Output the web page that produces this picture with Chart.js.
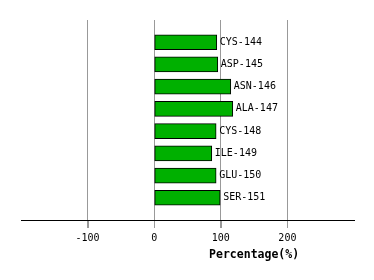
<!DOCTYPE html>
<html>
<head>
<meta charset="utf-8">
<script src="https://cdn.jsdelivr.net/npm/chart.js@4/dist/chart.umd.min.js"></script>
<style>
  html, body { margin: 0; padding: 0; background: #fff; }
  #wrap { width: 374px; height: 280px; }
</style>
</head>
<body>
<div id="wrap"><canvas id="chart_a" width="374" height="280"></canvas></div>
<script>
// residues (padded with empty slots top and bottom)
var residues = ['CYS-144', 'ASP-145', 'ASN-146', 'ALA-147', 'CYS-148', 'ILE-149', 'GLU-150', 'SER-151'];
var percentages = [94, 95.5, 115, 118, 93, 86.5, 93, 99];
var tickValues = [-100, 0, 100, 200];
var axisTitle = 'Percentage(%)';

var labels = [''].concat(residues, ['']);
var values = [null].concat(percentages, [null]);

var mono = "'DejaVu Sans Mono', 'Liberation Mono', monospace";

function gridCol(c) {
  var v = c.tick ? c.tick.value : null;
  return tickValues.indexOf(v) >= 0 ? '#999999' : 'rgba(0,0,0,0)';
}

// residue names to the right of each bar, plus tick marks under the axis
var barLabels = {
  id: 'barLabels',
  afterDatasetsDraw: function(chart) {
    var ctx = chart.ctx;
    var meta = chart.getDatasetMeta(0);
    var xs = chart.scales.x;
    ctx.save();
    ctx.font = '10px ' + mono;
    ctx.fillStyle = '#000';
    ctx.textAlign = 'left';
    ctx.textBaseline = 'middle';
    meta.data.forEach(function(bar, i) {
      if (values[i] == null) return;
      ctx.fillText(labels[i], bar.x + 3, bar.y);
    });
    ctx.strokeStyle = '#999999';
    ctx.lineWidth = 1;
    tickValues.forEach(function(v) {
      var px = Math.round(xs.getPixelForValue(v)) + 0.5;
      ctx.beginPath();
      ctx.moveTo(px, xs.top + 1);
      ctx.lineTo(px, xs.top + 8);
      ctx.stroke();
    });
    ctx.restore();
  }
};

// axis title, centred over the positive side like the original
var xTitle = {
  id: 'xTitle',
  afterDraw: function(chart) {
    var ctx = chart.ctx;
    var x = chart.scales.x;
    ctx.save();
    ctx.font = 'bold 11.5px ' + mono;
    ctx.fillStyle = '#000';
    ctx.textAlign = 'center';
    ctx.textBaseline = 'middle';
    ctx.fillText(axisTitle, x.getPixelForValue(150), 255);
    ctx.restore();
  }
};

var ctxL = document.getElementById('chart_a').getContext('2d');
var myBarChart = new Chart(ctxL, {
  type: 'bar',
  data: {
    labels: labels,
    datasets: [{
      data: values,
      backgroundColor: '#00b000',
      borderColor: '#000000',
      borderWidth: 1,
      borderSkipped: false,
      barThickness: 15
    }]
  },
  options: {
    indexAxis: 'y',
    responsive: false,
    animation: false,
    layout: { padding: { left: 21, right: 20, top: 20, bottom: 0 } },
    plugins: { legend: { display: false }, tooltip: { enabled: false } },
    scales: {
      y: {
        display: false,
        offset: false
      },
      x: {
        min: -200,
        max: 300,
        afterFit: function(s) { s.height = 60; },
        afterBuildTicks: function(s) {
          s.ticks = [-200].concat(tickValues, [300]).map(function(v) { return { value: v }; });
        },
        border: { display: true, color: '#000', width: 1 },
        grid: {
          color: gridCol,
          tickColor: gridCol,
          lineWidth: 1,
          tickLength: 8
        },
        ticks: {
          font: { family: mono, size: 10 },
          color: '#000',
          padding: 4,
          maxRotation: 0,
          autoSkip: false,
          callback: function(v) { return tickValues.indexOf(v) >= 0 ? String(v) : ''; }
        }
      }
    }
  },
  plugins: [barLabels, xTitle]
});
</script>
</body>
</html>
